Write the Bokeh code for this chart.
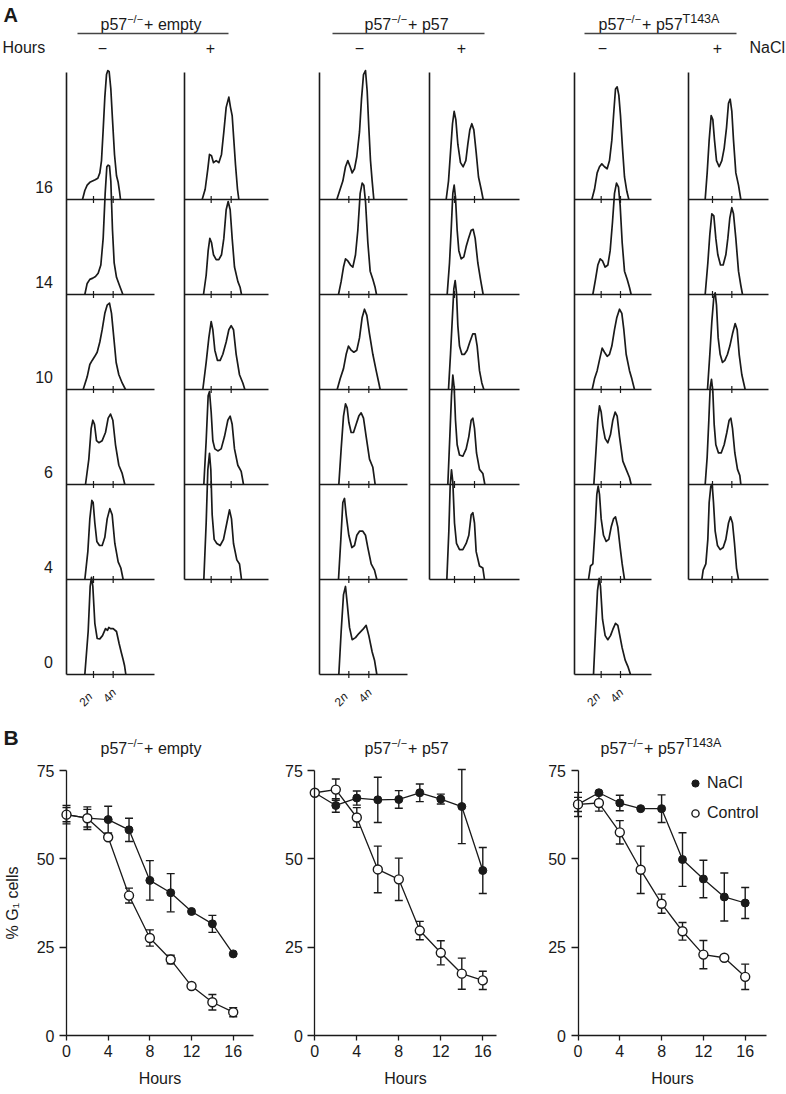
import math
from bokeh.plotting import figure
from bokeh.models import Range1d, ColumnDataSource, Whisker, TeeHead, Legend, LegendItem
from bokeh.layouts import column, row
from bokeh.embed import file_html
from bokeh.resources import INLINE
from bokeh.core.properties import value

# ===================== DATA =====================
# Panel A: DNA-content histograms, (channel, relative cell count) pairs
# channel 0 = start of the histogram's x axis; counts: 232 = one panel height
empty_ctl_16 = [(48,0),(55,22),(62,35),(70,42),(78,45),(86,48),(94,52),(100,65),(105,95),(110,170),(115,250),(120,305),(124,315),(128,312),(133,270),(138,195),(144,110),(150,58),(155,42),(159,20),(162,0)]
empty_ctl_14 = [(55,0),(62,27),(70,37),(79,40),(87,44),(95,52),(103,72),(110,137),(116,247),(121,312),(125,316),(129,314),(133,277),(138,157),(143,77),(150,42),(159,22),(165,9),(169,0)]
empty_ctl_10 = [(50,0),(62,31),(70,61),(77,71),(85,81),(92,91),(100,116),(107,146),(115,186),(122,206),(129,211),(135,186),(142,126),(149,66),(157,36),(167,16),(177,0)]
empty_ctl_6 = [(57,0),(67,62),(74,137),(79,157),(84,147),(90,107),(97,102),(107,107),(117,127),(125,162),(132,172),(139,157),(147,97),(157,47),(167,27),(175,0)]
empty_ctl_4 = [(55,0),(64,68),(70,148),(76,193),(80,188),(85,138),(91,93),(99,83),(107,83),(115,103),(122,148),(130,173),(137,158),(145,88),(155,43),(163,28),(170,0)]
empty_ctl_0 = [(55,0),(65,105),(71,215),(75,237),(79,215),(85,125),(92,88),(100,87),(108,95),(117,112),(123,108),(127,115),(132,112),(140,112),(150,105),(158,75),(164,55),(170,36),(174,22),(178,0)]
empty_nacl_16 = [(53,0),(62,25),(70,75),(75,110),(81,107),(87,90),(95,95),(103,90),(111,110),(118,165),(125,225),(133,250),(138,225),(143,205),(148,145),(153,85),(159,25),(163,0)]
empty_nacl_14 = [(57,0),(65,47),(71,107),(76,137),(81,127),(87,97),(95,85),(103,85),(111,97),(118,137),(125,207),(131,227),(137,207),(143,137),(150,67),(160,32),(167,17),(171,0)]
empty_nacl_10 = [(55,0),(65,66),(73,126),(80,166),(85,146),(91,96),(99,71),(107,71),(115,86),(125,116),(133,146),(140,156),(147,146),(155,86),(165,36),(175,16),(181,0)]
empty_nacl_6 = [(58,0),(65,107),(71,217),(75,227),(80,177),(85,107),(91,87),(100,82),(110,87),(120,117),(130,157),(137,167),(143,147),(150,87),(160,47),(170,32),(177,0)]
empty_nacl_4 = [(58,0),(65,138),(70,268),(75,308),(79,268),(83,158),(89,98),(97,88),(107,83),(117,98),(127,138),(135,170),(141,148),(147,88),(157,48),(165,38),(171,0)]

p57_ctl_16 = [(52,0),(60,20),(70,45),(78,80),(85,95),(92,80),(98,65),(105,75),(112,105),(120,165),(126,245),(132,305),(138,315),(143,265),(148,175),(153,95),(158,45),(163,0)]
p57_ctl_14 = [(57,0),(65,32),(72,67),(78,87),(85,82),(93,72),(100,67),(108,97),(115,157),(122,247),(128,272),(133,267),(138,227),(145,127),(152,57),(160,37),(167,17),(171,0)]
p57_ctl_10 = [(53,0),(62,26),(72,51),(80,86),(87,106),(95,96),(103,91),(112,96),(120,126),(128,176),(135,196),(142,181),(150,136),(160,86),(170,46),(178,16),(182,0)]
p57_ctl_6 = [(58,0),(65,87),(72,167),(78,197),(83,187),(88,152),(95,127),(102,127),(110,147),(118,167),(125,175),(132,162),(140,117),(150,62),(160,42),(167,0)]
p57_ctl_4 = [(57,0),(64,98),(70,188),(75,198),(80,158),(88,108),(97,78),(105,83),(112,108),(120,118),(130,118),(138,108),(145,78),(155,38),(165,23),(172,0)]
p57_ctl_0 = [(58,0),(65,105),(72,195),(78,215),(83,175),(90,115),(98,85),(108,90),(118,100),(130,110),(140,120),(148,95),(158,55),(165,35),(172,0)]
p57_nacl_16 = [(50,0),(57,45),(63,115),(69,185),(74,215),(79,195),(85,135),(93,90),(101,80),(109,95),(115,135),(121,170),(127,185),(133,170),(140,115),(147,55),(155,25),(161,0)]
p57_nacl_14 = [(53,0),(60,77),(65,157),(70,247),(74,267),(78,237),(83,157),(88,107),(95,87),(103,92),(110,117),(117,137),(125,157),(131,159),(137,137),(145,77),(153,37),(161,0)]
p57_nacl_10 = [(57,0),(63,86),(68,166),(73,246),(77,266),(81,236),(85,156),(90,106),(97,86),(105,86),(113,96),(121,116),(130,136),(137,136),(143,106),(150,46),(157,16),(163,0)]
p57_nacl_6 = [(55,0),(61,117),(66,217),(70,267),(74,237),(78,157),(83,97),(90,72),(100,69),(110,87),(118,117),(125,157),(130,162),(135,137),(141,77),(150,37),(160,27),(166,0)]
p57_nacl_4 = [(52,0),(58,118),(62,228),(66,268),(70,238),(75,138),(81,88),(90,73),(100,73),(110,88),(118,108),(125,158),(130,163),(135,138),(140,68),(150,33),(160,28),(165,0)]

t143a_ctl_16 = [(52,0),(60,25),(68,65),(75,80),(82,87),(90,80),(98,75),(105,95),(112,145),(118,215),(123,270),(128,275),(133,255),(138,205),(144,125),(150,55),(157,20),(163,0)]
t143a_ctl_14 = [(55,0),(63,37),(70,72),(77,87),(84,82),(92,67),(100,72),(107,107),(114,177),(120,247),(126,272),(132,262),(137,217),(143,127),(150,57),(158,37),(165,17),(170,0)]
t143a_ctl_10 = [(53,0),(60,26),(68,46),(76,76),(83,101),(90,91),(98,81),(105,86),(112,106),(120,146),(127,176),(135,196),(142,186),(148,146),(155,86),(165,46),(172,26),(180,0)]
t143a_ctl_6 = [(58,0),(64,77),(70,157),(75,192),(80,177),(85,142),(92,112),(100,102),(108,122),(115,157),(122,177),(128,167),(135,117),(145,57),(155,37),(165,17),(170,0)]
t143a_ctl_4 = [(42,0),(48,33),(55,38),(62,128),(67,208),(71,228),(75,208),(80,148),(87,108),(95,93),(103,98),(110,128),(117,148),(123,153),(130,128),(137,78),(143,38),(150,0)]
t143a_ctl_0 = [(57,0),(63,105),(69,205),(74,235),(78,215),(84,135),(92,95),(100,85),(108,95),(115,110),(123,125),(130,120),(136,95),(143,65),(152,35),(160,20),(168,0)]
t143a_nacl_16 = [(50,0),(56,65),(62,145),(68,205),(73,195),(78,145),(84,95),(92,80),(100,95),(107,125),(114,175),(120,235),(125,245),(130,215),(135,145),(142,65),(150,35),(157,0)]
t143a_nacl_14 = [(50,0),(58,77),(64,147),(70,197),(76,192),(82,137),(88,97),(96,72),(104,72),(112,97),(118,137),(124,187),(130,212),(135,197),(142,137),(150,57),(157,22),(162,0)]
t143a_nacl_10 = [(57,0),(64,86),(70,166),(76,226),(80,236),(84,206),(89,126),(95,86),(102,66),(109,71),(117,86),(124,106),(132,136),(140,161),(146,146),(152,86),(160,36),(170,0)]
t143a_nacl_6 = [(50,0),(56,67),(61,157),(65,237),(69,257),(73,227),(77,147),(82,97),(90,77),(98,77),(107,97),(115,127),(122,157),(127,162),(132,137),(139,77),(147,37),(154,22),(157,0)]
t143a_nacl_4 = [(40,0),(44,23),(52,38),(58,98),(62,188),(67,228),(71,233),(75,188),(80,118),(87,83),(95,73),(104,78),(112,98),(120,138),(126,153),(132,138),(138,88),(144,28),(150,0)]

# channel position of the 2n / 4n marks in each column
TICK_CH = {("empty","ctl"):(81,140), ("empty","nacl"):(80,140),
           ("p57","ctl"):(88,148), ("p57","nacl"):(75,135),
           ("t143a","ctl"):(80,138), ("t143a","nacl"):(72,130)}
HOURS_CTL = [16, 14, 10, 6, 4, 0]
HOURS_NACL = [16, 14, 10, 6, 4]

# Panel B: % G1 cells
HOURS = [0, 2, 4, 6, 8, 10, 12, 14, 16]
empty_nacl = [62.5, 61.5, 61.1, 58.2, 43.9, 40.4, 35.1, 31.6, 23.1]
empty_nacl_sem = [2.6, 3.2, 3.8, 3.3, 5.6, 5.4, 0, 2.4, 0]
empty_ctl = [62.5, 61.5, 56.1, 39.6, 27.6, 21.5, 14.0, 9.4, 6.6]
empty_ctl_sem = [2.0, 2.5, 0, 2.1, 2.3, 1.2, 0, 2.2, 1.3]
p57_nacl = [68.7, 65.1, 67.2, 66.7, 66.8, 68.7, 66.9, 64.8, 46.7]
p57_nacl_sem = [0, 1.9, 2.0, 6.4, 2.5, 2.5, 1.4, 10.5, 6.5]
p57_ctl = [68.7, 69.6, 61.7, 47.0, 44.2, 29.7, 23.4, 17.5, 15.6]
p57_ctl_sem = [0, 3.0, 2.8, 6.6, 6.0, 2.6, 3.4, 4.4, 2.6]
t143a_nacl = [65.4, 68.7, 65.8, 64.2, 64.2, 49.8, 44.3, 39.2, 37.5]
t143a_nacl_sem = [3.4, 0, 2.2, 0, 3.9, 7.6, 5.3, 6.8, 4.4]
t143a_ctl = [65.4, 65.8, 57.5, 46.9, 37.3, 29.5, 22.9, 22.0, 16.6]
t143a_ctl_sem = [2.0, 2.3, 3.3, 6.7, 2.7, 2.5, 4.0, 0, 3.6]

HIST = {
    ("empty","ctl",16): empty_ctl_16, ("empty","ctl",14): empty_ctl_14, ("empty","ctl",10): empty_ctl_10,
    ("empty","ctl",6): empty_ctl_6, ("empty","ctl",4): empty_ctl_4, ("empty","ctl",0): empty_ctl_0,
    ("empty","nacl",16): empty_nacl_16, ("empty","nacl",14): empty_nacl_14, ("empty","nacl",10): empty_nacl_10,
    ("empty","nacl",6): empty_nacl_6, ("empty","nacl",4): empty_nacl_4,
    ("p57","ctl",16): p57_ctl_16, ("p57","ctl",14): p57_ctl_14, ("p57","ctl",10): p57_ctl_10,
    ("p57","ctl",6): p57_ctl_6, ("p57","ctl",4): p57_ctl_4, ("p57","ctl",0): p57_ctl_0,
    ("p57","nacl",16): p57_nacl_16, ("p57","nacl",14): p57_nacl_14, ("p57","nacl",10): p57_nacl_10,
    ("p57","nacl",6): p57_nacl_6, ("p57","nacl",4): p57_nacl_4,
    ("t143a","ctl",16): t143a_ctl_16, ("t143a","ctl",14): t143a_ctl_14, ("t143a","ctl",10): t143a_ctl_10,
    ("t143a","ctl",6): t143a_ctl_6, ("t143a","ctl",4): t143a_ctl_4, ("t143a","ctl",0): t143a_ctl_0,
    ("t143a","nacl",16): t143a_nacl_16, ("t143a","nacl",14): t143a_nacl_14, ("t143a","nacl",10): t143a_nacl_10,
    ("t143a","nacl",6): t143a_nacl_6, ("t143a","nacl",4): t143a_nacl_4,
}

# ===================== STYLE / LAYOUT =====================
FONT = "Liberation Sans"
INK = "#1a1a1a"
X0, Y0 = 0, 0            # page origin of the figures
PAGE_W, PAGE_H = 786, 1094
PA_H = 758
COL_X = {("empty","ctl"):66, ("empty","nacl"):184, ("p57","ctl"):319,
         ("p57","nacl"):429, ("t143a","ctl"):574, ("t143a","nacl"):688}
BASE_LEN = {("empty","ctl"):88, ("empty","nacl"):84, ("p57","ctl"):88,
            ("p57","nacl"):90, ("t143a","ctl"):77, ("t143a","nacl"):80}
ROW_Y = {16:199, 14:294, 10:389, 6:484, 4:579, 0:674}
AXIS_TOP = 72
CH_PER_PX = 3.0
CT_PER_PX = 232 / 95.0

pa = figure(width=PAGE_W, height=PA_H, x_range=Range1d(X0, X0 + PAGE_W),
            y_range=Range1d(Y0 + PA_H, Y0), output_backend="svg",
            toolbar_location=None, min_border=0,
            x_axis_location=None, y_axis_location=None)
pa.grid.visible = False
pa.outline_line_color = None

for key, ax in COL_X.items():
    pa.extra_x_ranges["c_%s_%s" % key] = Range1d((X0 - ax) * CH_PER_PX, (X0 + PAGE_W - ax) * CH_PER_PX)
for hr, b in ROW_Y.items():
    pa.extra_y_ranges["r%d" % hr] = Range1d((b - (Y0 + PA_H)) * CT_PER_PX, (b - Y0) * CT_PER_PX)

# frames of the histogram panels
for key, ax in COL_X.items():
    hours = HOURS_CTL if key[1] == "ctl" else HOURS_NACL
    bottom = ROW_Y[hours[-1]]
    pa.segment(x0=[ax], y0=[AXIS_TOP], x1=[ax], y1=[bottom], line_color=INK, line_width=1.6)
    pa.segment(x0=[ax] * len(hours), y0=[ROW_Y[h] for h in hours],
               x1=[ax + BASE_LEN[key]] * len(hours), y1=[ROW_Y[h] for h in hours],
               line_color=INK, line_width=1.6)
    t2, t4 = TICK_CH[key]
    for h in hours:
        pa.segment(x0=[t2, t4], x1=[t2, t4], y0=[-3.5 * CT_PER_PX] * 2, y1=[3.5 * CT_PER_PX] * 2,
                   line_color=INK, line_width=1.2,
                   x_range_name="c_%s_%s" % key, y_range_name="r%d" % h)

# histograms
for (cons, trt, hr), pts in HIST.items():
    pa.line(x=[c for c, _ in pts], y=[n for _, n in pts], line_color=INK, line_width=1.7,
            line_join="round", x_range_name="c_%s_%s" % (cons, trt), y_range_name="r%d" % hr)

def txt(x, y, s, size=16, align="left", baseline="middle", style="normal", angle=0.0):
    pa.text(x=[x], y=[y], text=[s], text_font=value(FONT), text_font_size=value("%spx" % size),
            text_align=align, text_baseline=baseline, text_font_style=style,
            angle=angle, text_color=INK)

ARIAL = {'p':556,'5':556,'7':556,'+':584,' ':278,'e':556,'m':833,'t':278,'y':500,
         '\u2212':584,'/':278,'T':611,'1':556,'4':556,'3':556,'A':667}
def tw(s, size):
    return sum(ARIAL.get(c, 556) for c in s) / 1000.0 * size

def title(x, y, pieces):
    for s, size, lift in pieces:
        txt(x, y - lift, s, size=size, baseline="alphabetic")
        x += tw(s, size) + (1.0 if lift else 0.0)

SUP = "\u2212/\u2212"
T_EMPTY = [("p57", 16, 0), (SUP, 11, 5.5), ("+ empty", 16, 0)]
T_P57 = [("p57", 16, 0), (SUP, 11, 5.5), ("+ p57", 16, 0)]
T_T143A = [("p57", 16, 0), (SUP, 11, 5.5), ("+ p57", 16, 0), ("T143A", 12.5, 5.5)]

# panel A headers
txt(3, 14, "A", size=20, style="bold")
title(100, 24, T_EMPTY)
title(364, 24, T_P57)
title(598, 24, T_T143A)
pa.segment(x0=[77, 332, 584], x1=[228, 484, 736], y0=[33] * 3, y1=[33] * 3, line_color="#444", line_width=1.3)
txt(2, 47, "Hours")
for xc, s in zip([102, 210, 359, 461, 602, 717], ["\u2212", "+", "\u2212", "+", "\u2212", "+"]):
    txt(xc, 47, s, align="center")
txt(749, 47, "NaCl")
for h in HOURS_CTL:
    txt(52.5, ROW_Y[h] - 12.5, str(h), align="right")

# 2n / 4n labels under the untreated columns
ang = math.pi / 4
d = (math.cos(ang), -math.sin(ang))
for key in [("empty","ctl"), ("p57","ctl"), ("t143a","ctl")]:
    ax = COL_X[key]
    b = ROW_Y[0]
    for ch, num, dy in zip(TICK_CH[key], ["2", "4"], [20, 16]):
        px = ax + ch / CH_PER_PX + (-3 if num == "2" else 1)
        py = b + dy
        wn = 0.556 * 12
        txt(px, py, "n", size=12, align="right", style="italic", angle=ang)
        txt(px - wn * d[0], py - wn * d[1], num, size=12, align="right", angle=ang)

# panel B headers (drawn in panel A's canvas, just above the plots)
txt(3, 737, "B", size=21, style="bold")
title(100, 748, T_EMPTY)
title(364, 748, T_P57)
title(600, 748, T_T143A)

# ===================== PANEL B =====================
PB_TOP, PB_BOTTOM = PA_H, PAGE_H
Y0PX, PYU = 1035, (1035 - 770) / 75.0

def panel_b(x0px, pxh, fig_left, fig_right, xbound,
            nacl, nacl_sem, ctl, ctl_sem, ylabel=None, legend=False):
    p = figure(width=fig_right - fig_left, height=PB_BOTTOM - PB_TOP,
               x_range=Range1d((fig_left - x0px) / pxh, (fig_right - x0px) / pxh),
               y_range=Range1d(-(PB_BOTTOM - Y0PX) / PYU, (Y0PX - PB_TOP) / PYU),
               output_backend="svg", toolbar_location=None, min_border=0)
    p.grid.visible = False
    p.outline_line_color = None
    for ax in (p.xaxis[0], p.yaxis[0]):
        ax.fixed_location = 0
        ax.axis_line_color = INK
        ax.axis_line_width = 1.3
        ax.major_tick_line_color = INK
        ax.major_tick_line_width = 1.3
        ax.minor_tick_line_color = None
        ax.major_tick_in = 0
        ax.major_label_text_font = FONT
        ax.major_label_text_font_size = "16px"
        ax.major_label_text_color = INK
        ax.axis_label_text_font = FONT
        ax.axis_label_text_font_size = "16px"
        ax.axis_label_text_font_style = "normal"
        ax.axis_label_text_color = INK
    p.xaxis.ticker = [0, 4, 8, 12, 16]
    p.yaxis.ticker = [0, 25, 50, 75]
    p.xaxis.bounds = (0, xbound)
    p.yaxis.bounds = (0, 75)
    p.xaxis.major_tick_out = 5
    p.yaxis.major_tick_out = 7
    p.xaxis.major_label_standoff = 4
    p.yaxis.major_label_standoff = 5
    p.xaxis.axis_label = "Hours"
    p.xaxis.axis_label_standoff = 10
    if ylabel:
        p.yaxis.axis_label = ylabel
        p.yaxis.axis_label_standoff = 13

    for vals, sem in ((nacl, nacl_sem), (ctl, ctl_sem)):
        idx = [i for i, s in enumerate(sem) if s > 0]
        src = ColumnDataSource(dict(x=[HOURS[i] for i in idx],
                                    lo=[vals[i] - sem[i] for i in idx],
                                    hi=[vals[i] + sem[i] for i in idx]))
        p.add_layout(Whisker(source=src, base="x", lower="lo", upper="hi", dimension="height",
                             line_color=INK, line_width=1.4,
                             upper_head=TeeHead(size=8, line_color=INK, line_width=1.4),
                             lower_head=TeeHead(size=8, line_color=INK, line_width=1.4)))
    p.line(HOURS, nacl, line_color=INK, line_width=1.3)
    p.line(HOURS, ctl, line_color=INK, line_width=1.3)
    r_n = p.scatter(HOURS, nacl, size=8, marker="circle", fill_color=INK, line_color=INK, line_width=1)
    r_c = p.scatter(HOURS, ctl, size=9, marker="circle", fill_color="white", line_color=INK, line_width=1.4)
    if legend:
        lg = Legend(items=[LegendItem(label="NaCl", renderers=[r_n]),
                           LegendItem(label="Control", renderers=[r_c])],
                    location=(686 - fig_left, PB_BOTTOM - 822),
                    glyph_width=18, glyph_height=18, label_height=18, spacing=12,
                    label_standoff=3, padding=0, margin=0,
                    border_line_color=None, background_fill_alpha=0,
                    label_text_font=FONT, label_text_font_size="16px", label_text_color=INK)
        p.add_layout(lg)
    return p

b1 = panel_b(66, 10.42, 0, 262, 17.9, empty_nacl, empty_nacl_sem, empty_ctl, empty_ctl_sem,
             ylabel="% G\u2081 cells")
b2 = panel_b(314.3, 10.5, 262, 524, 17.3, p57_nacl, p57_nacl_sem, p57_ctl, p57_ctl_sem)
b3 = panel_b(577.5, 10.45, 524, 786, 18.0, t143a_nacl, t143a_nacl_sem, t143a_ctl, t143a_ctl_sem,
             legend=True)

layout = column(pa, row(b1, b2, b3))
open("out.html", "w").write(file_html(layout, INLINE))
